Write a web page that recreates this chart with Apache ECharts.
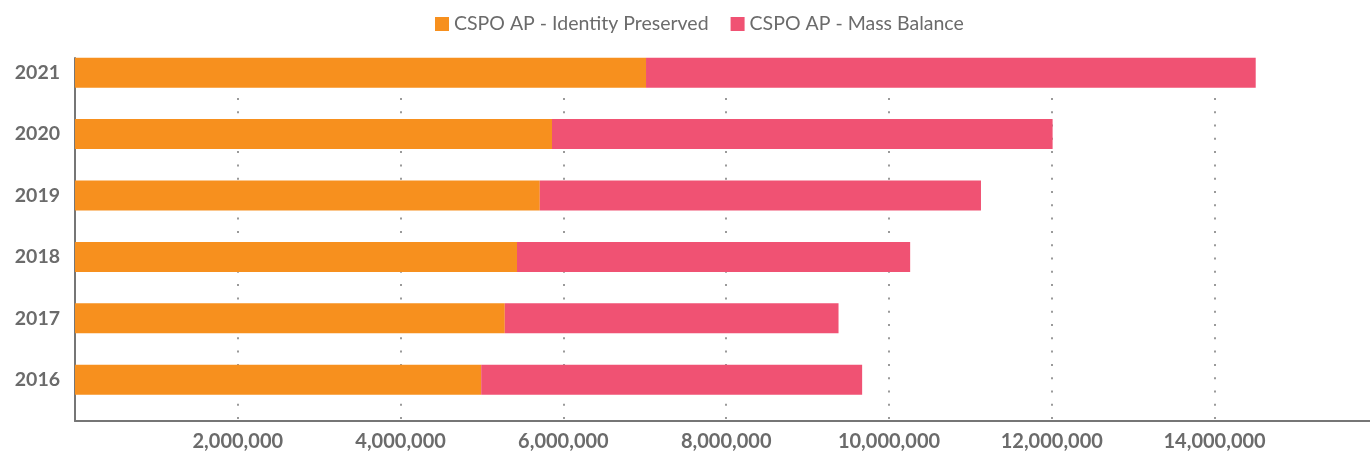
<!DOCTYPE html>
<html>
<head>
<meta charset="utf-8">
<style>
  html, body { margin: 0; padding: 0; background: #fff; }
  #chart { width: 1370px; height: 458px; }
</style>
<script src="https://cdn.jsdelivr.net/npm/echarts@6/dist/echarts.min.js"></script>
</head>
<body>
<div id="chart"></div>
<script>
// bottom-up order, as the category axis draws it
const years = ['2016', '2017', '2018', '2019', '2020', '2021'];
const identityPreserved = [4990000, 5280000, 5430000, 5710000, 5860000, 7015000];
const massBalance = [4680000, 4100000, 4830000, 5420000, 6150000, 7490000];
const seriesNames = ['CSPO AP - Identity Preserved', 'CSPO AP - Mass Balance'];

const axisMin = 0;
const axisMax = 16000000;
const axisStep = 2000000;

const textColor = '#6b6b6b';
const lineColor = '#767676';
const font = 'Lato, "Open Sans", sans-serif';

const chart = echarts.init(document.getElementById('chart'));

chart.setOption({
	animation: false,
	textStyle: { fontFamily: font },
	legend: {
		top: 9,
		left: 430,
		itemWidth: 14,
		itemHeight: 14,
		itemGap: 22,
		icon: 'rect',
		textStyle: { color: textColor, fontSize: 19.5, fontFamily: font },
		data: seriesNames
	},
	grid: [
		// bars (plot runs past the right edge, 16M sits just off canvas)
		{ left: 75, width: 1302.4, top: 42, height: 368.4, outerBoundsMode: 'none' },
		// axis lines, tick labels and gridlines
		{ left: 75, width: 1302.4, top: 58, bottom: 37, outerBoundsMode: 'none' }
	],
	xAxis: [
		{
			gridIndex: 0,
			type: 'value',
			min: axisMin,
			max: axisMax,
			interval: axisStep,
			show: false
		},
		{
			gridIndex: 1,
			type: 'value',
			min: axisMin,
			max: axisMax,
			interval: axisStep,
			axisLine: { show: true, lineStyle: { color: lineColor, width: 2 } },
			axisTick: { show: false },
			axisLabel: {
				showMinLabel: false,
				showMaxLabel: false,
				margin: 11,
				color: textColor,
				fontSize: 20,
				fontWeight: 'bold',
				fontFamily: font,
				formatter: v => v.toLocaleString('en-US')
			},
			splitLine: {
				show: true,
				lineStyle: { color: '#9a9a9a', width: 2, type: [2, 11.3] }
			}
		}
	],
	yAxis: [
		{
			gridIndex: 0,
			type: 'category',
			data: years,
			axisLine: { show: false },
			axisTick: { show: false },
			axisLabel: {
				margin: 15,
				color: textColor,
				fontSize: 19.5,
				fontWeight: 'bold',
				fontFamily: font
			}
		},
		{
			gridIndex: 1,
			type: 'value',
			min: 0,
			max: 1,
			axisLine: { show: true, lineStyle: { color: lineColor, width: 2 } },
			axisTick: { show: false },
			axisLabel: { show: false },
			splitLine: { show: false }
		}
	],
	series: [
		{
			name: seriesNames[0],
			type: 'bar',
			stack: 'total',
			xAxisIndex: 0,
			yAxisIndex: 0,
			barWidth: 30,
			itemStyle: { color: '#F7901E' },
			data: identityPreserved
		},
		{
			name: seriesNames[1],
			type: 'bar',
			stack: 'total',
			xAxisIndex: 0,
			yAxisIndex: 0,
			barWidth: 30,
			itemStyle: { color: '#F05273' },
			data: massBalance
		}
	]
});
</script>
</body>
</html>
